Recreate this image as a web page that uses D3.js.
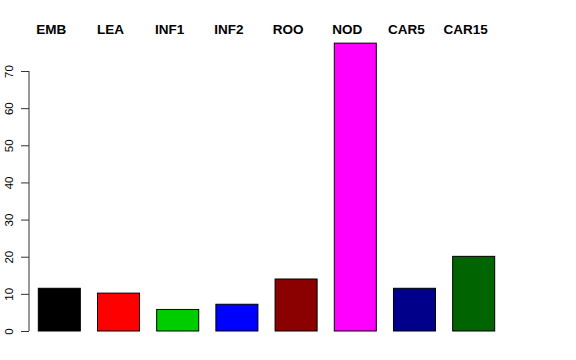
<!DOCTYPE html>
<html><head><meta charset="utf-8">
<script src="https://cdn.jsdelivr.net/npm/d3@7"></script>
<style>body{margin:0;background:#fff}svg{display:block}</style>
</head><body>
<script>
const categories = ["EMB","LEA","INF1","INF2","ROO","NOD","CAR5","CAR15"];
const values = [11.5, 10.2, 5.8, 7.2, 14.0, 77.5, 11.5, 20.1];
const colors = ["#000000","#FF0000","#00CD00","#0000FF","#8B0000","#FF00FF","#00008B","#006400"];
const yTicks = [0,10,20,30,40,50,60,70];

const W = 576, H = 360;
const svg = d3.select("body").append("svg").attr("width", W).attr("height", H);

const x = d3.scaleBand().domain(categories).range([38.3, 494.7]).paddingInner(0.29).paddingOuter(0);
const y = d3.scaleLinear().domain([0, 70]).range([331, 71]);

svg.selectAll("rect.bar").data(categories).join("rect")
  .attr("class","bar")
  .attr("x", d => x(d))
  .attr("width", x.bandwidth())
  .attr("y", (d,i) => y(values[i]))
  .attr("height", (d,i) => y(0) - y(values[i]))
  .attr("fill", (d,i) => colors[i])
  .attr("stroke", "#000").attr("stroke-width", 1);

const ax = svg.append("g").attr("transform", "translate(29,0)")
  .call(d3.axisLeft(y).tickValues(yTicks).tickSize(8).tickPadding(0).tickFormat(d3.format("d")));
ax.select(".domain").attr("stroke", "#333").attr("d", `M0,${y(0)}V${y(70)}`);
ax.selectAll(".tick line").attr("stroke", "#333");
ax.selectAll(".tick text")
  .attr("transform", "rotate(-90)")
  .attr("x", 0).attr("y", -16)
  .attr("dy", 0)
  .attr("text-anchor", "middle")
  .style("font-family", "Liberation Sans, Arial, sans-serif")
  .style("font-size", "11.5px")
  .attr("fill", "#000");

svg.selectAll("text.lab").data(categories).join("text")
  .attr("class","lab")
  .attr("x", d => x(d) + x.bandwidth()/2 - 8)
  .attr("y", 34)
  .attr("text-anchor", "middle")
  .style("font-family", "Liberation Sans, Arial, sans-serif")
  .style("font-weight", "bold")
  .style("font-size", "13.5px")
  .text(d => d);
</script>
</body></html>
